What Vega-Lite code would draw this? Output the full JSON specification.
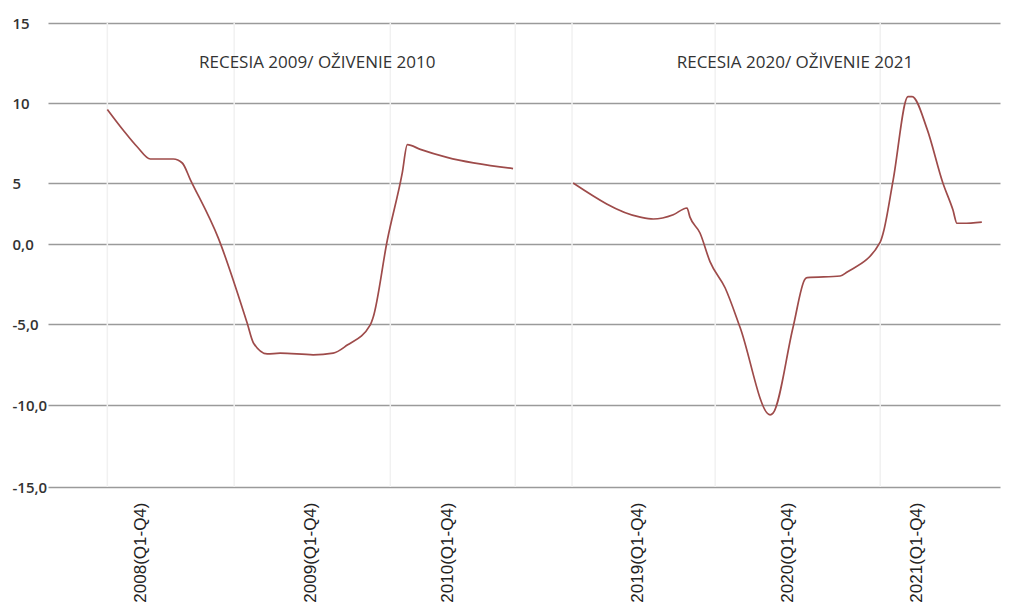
{
  "$schema": "https://vega.github.io/schema/vega-lite/v6.json",
  "width": 952,
  "height": 464,
  "autosize": "none",
  "padding": {"left": 48, "top": 23, "right": 13, "bottom": 120},
  "background": "white",
  "config": {"view": {"stroke": null}},
  "datasets": {
    "series": [
      {"period": "2008-2010", "t": 0, "v": 9.6},
      {"period": "2008-2010", "t": 0.43, "v": 8.3},
      {"period": "2008-2010", "t": 0.81, "v": 7.25},
      {"period": "2008-2010", "t": 1.16, "v": 6.5},
      {"period": "2008-2010", "t": 1.78, "v": 6.5},
      {"period": "2008-2010", "t": 2.02, "v": 6.25},
      {"period": "2008-2010", "t": 2.24, "v": 5.2},
      {"period": "2008-2010", "t": 2.99, "v": 0.5},
      {"period": "2008-2010", "t": 3.77, "v": -4.94},
      {"period": "2008-2010", "t": 3.94, "v": -6.17},
      {"period": "2008-2010", "t": 4.31, "v": -6.85},
      {"period": "2008-2010", "t": 4.66, "v": -6.8},
      {"period": "2008-2010", "t": 5.55, "v": -6.9},
      {"period": "2008-2010", "t": 6.09, "v": -6.8},
      {"period": "2008-2010", "t": 6.47, "v": -6.3},
      {"period": "2008-2010", "t": 7.09, "v": -5.05},
      {"period": "2008-2010", "t": 7.17, "v": -4.56},
      {"period": "2008-2010", "t": 7.55, "v": 0.33},
      {"period": "2008-2010", "t": 7.95, "v": 5.6},
      {"period": "2008-2010", "t": 8.09, "v": 7.4},
      {"period": "2008-2010", "t": 8.44, "v": 7.1},
      {"period": "2008-2010", "t": 9.16, "v": 6.6},
      {"period": "2008-2010", "t": 10.94, "v": 5.9},
      {"period": "2019-2021", "t": 12.56, "v": 5.0},
      {"period": "2019-2021", "t": 14.37, "v": 2.2},
      {"period": "2019-2021", "t": 14.72, "v": 2.05},
      {"period": "2019-2021", "t": 15.26, "v": 2.4},
      {"period": "2019-2021", "t": 15.63, "v": 2.95},
      {"period": "2019-2021", "t": 15.71, "v": 2.2},
      {"period": "2019-2021", "t": 15.98, "v": 0.9},
      {"period": "2019-2021", "t": 16.25, "v": -1.1},
      {"period": "2019-2021", "t": 16.66, "v": -2.75},
      {"period": "2019-2021", "t": 17.06, "v": -5.2},
      {"period": "2019-2021", "t": 17.87, "v": -10.6},
      {"period": "2019-2021", "t": 17.95, "v": -10.5},
      {"period": "2019-2021", "t": 18.49, "v": -5.2},
      {"period": "2019-2021", "t": 18.81, "v": -2.2},
      {"period": "2019-2021", "t": 18.87, "v": -2.1},
      {"period": "2019-2021", "t": 19.76, "v": -2.0},
      {"period": "2019-2021", "t": 19.95, "v": -1.75},
      {"period": "2019-2021", "t": 20.84, "v": 0.16},
      {"period": "2019-2021", "t": 20.92, "v": 0.9},
      {"period": "2019-2021", "t": 21.19, "v": 5.2},
      {"period": "2019-2021", "t": 21.59, "v": 10.4},
      {"period": "2019-2021", "t": 21.7, "v": 10.4},
      {"period": "2019-2021", "t": 22.1, "v": 8.4},
      {"period": "2019-2021", "t": 22.53, "v": 5.0},
      {"period": "2019-2021", "t": 22.8, "v": 2.8},
      {"period": "2019-2021", "t": 22.91, "v": 1.7},
      {"period": "2019-2021", "t": 23.07, "v": 1.7},
      {"period": "2019-2021", "t": 23.58, "v": 1.8}
    ],
    "vgrid": [
      {"t": 0}, {"t": 3.42}, {"t": 7.63}, {"t": 11.0},
      {"t": 12.53}, {"t": 16.39}, {"t": 20.84}
    ],
    "notes": [
      {"label": "RECESIA 2009/ OŽIVENIE 2010", "t": 5.66, "v": 12.5},
      {"label": "RECESIA 2020/ OŽIVENIE 2021", "t": 18.54, "v": 12.5}
    ]
  },
  "layer": [
    {
      "data": {"name": "vgrid"},
      "mark": {"type": "rule", "color": "#f1f1f1", "strokeWidth": 1.5},
      "encoding": {
        "x": {
          "field": "t", "type": "quantitative",
          "scale": {"domain": [-1.6, 24.07], "nice": false, "zero": false},
          "axis": {
            "title": null,
            "values": [0.89, 5.47, 9.16, 14.29, 18.33, 21.83],
            "labelExpr": "datum.value < 3 ? '2008(Q1-Q4)' : datum.value < 7 ? '2009(Q1-Q4)' : datum.value < 12 ? '2010(Q1-Q4)' : datum.value < 16 ? '2019(Q1-Q4)' : datum.value < 20 ? '2020(Q1-Q4)' : '2021(Q1-Q4)'",
            "labelAngle": -90,
            "labelAlign": "right",
            "labelBaseline": "middle",
            "labelFont": "Liberation Sans",
            "labelFontSize": 17,
            "labelColor": "#222222",
            "labelPadding": 15,
            "ticks": false,
            "tickSize": 0,
            "domain": false,
            "grid": false,
            "labelOverlap": false,
            "labelBound": false
          }
        }
      }
    },
    {
      "data": {"name": "series"},
      "mark": {"type": "line", "color": "#9e4b4a", "strokeWidth": 1.7, "interpolate": "monotone"},
      "encoding": {
        "x": {"field": "t", "type": "quantitative"},
        "y": {
          "field": "v", "type": "quantitative",
          "scale": {"domain": [-15, -10, -5, 0, 5, 10, 15], "range": [464, 382, 301, 221, 160, 80, 0], "nice": false, "zero": false},
          "axis": {
            "title": null,
            "values": [-15, -10, -5, 0, 5, 10, 15],
            "labelExpr": "datum.value > 0 ? '' + datum.value : (datum.value == 0 ? '0,0' : '' + datum.value + ',0')",
            "labelAlign": "left",
            "labelBaseline": "middle",
            "labelFont": "Open Sans",
            "labelFontSize": 15,
            "labelFontWeight": 600,
            "labelColor": "#333333",
            "labelPadding": 36,
            "ticks": false,
            "tickSize": 0,
            "domain": false,
            "grid": true,
            "gridColor": "#9a9a9a",
            "gridWidth": 1.5,
            "labelOverlap": false,
            "labelBound": false
          }
        },
        "detail": {"field": "period"}
      }
    },
    {
      "data": {"name": "notes"},
      "mark": {"type": "text", "font": "Open Sans", "fontSize": 17, "color": "#333333", "align": "center", "baseline": "middle"},
      "encoding": {
        "x": {"field": "t", "type": "quantitative"},
        "y": {"field": "v", "type": "quantitative"},
        "text": {"field": "label"}
      }
    }
  ]
}
